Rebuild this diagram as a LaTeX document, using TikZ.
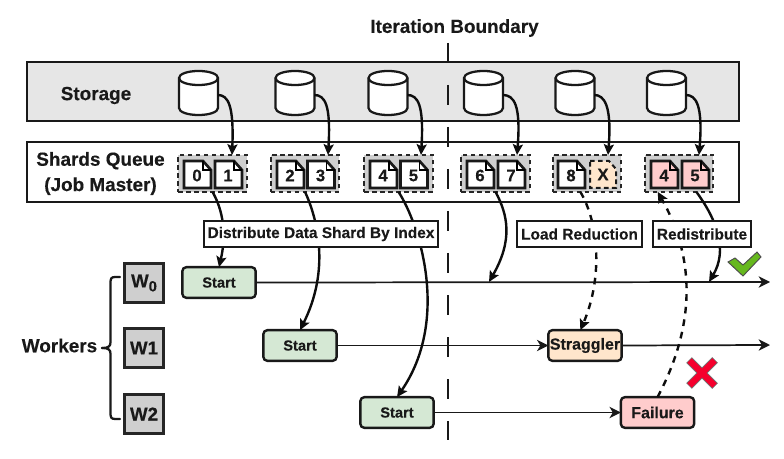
\documentclass[tikz,border=0pt]{standalone}
\usepackage{fontspec}
\setmainfont[BoldFeatures={FakeBold=0.25}]{Liberation Sans}
\usetikzlibrary{arrows.meta,calc}
\definecolor{storagebg}{HTML}{E6E6E6}
\definecolor{groupbg}{HTML}{CFCFCF}
\definecolor{startbg}{HTML}{D5E8D4}
\definecolor{stragbg}{HTML}{FFE6CC}
\definecolor{failbg}{HTML}{FFCCCC}
\definecolor{checkgreen}{HTML}{66B81E}
\definecolor{crossred}{HTML}{F5002D}
\tikzset{
  x=0.75pt,y=-0.75pt,
  every node/.style={font=\bfseries,inner sep=0pt,outer sep=0pt,text=black!90},
  band/.style={draw=black!90,line width=1.8pt,rectangle},
  cylline/.style={draw=black!90,line width=1.7pt},
  cylbox/.style={minimum width=29pt,minimum height=33pt},
  group/.style={draw=black!85,fill=groupbg,dashed,dash pattern=on 3.4pt off 2.6pt,line width=1.4pt,minimum width=51.5pt,minimum height=27.5pt},
  docline/.style={draw=black!90,line width=2pt,line join=miter},
  label/.style={draw=black!90,fill=white,line width=1.7pt,minimum height=20pt,font=\fontsize{11.6}{13}\bfseries\selectfont},
  worker/.style={draw=black!85,fill=groupbg,line width=2pt,minimum width=29pt,minimum height=29pt,font=\fontsize{14}{16}\bfseries\selectfont},
  state/.style={draw=black!90,line width=1.8pt,rounded corners=3pt,minimum width=55pt,minimum height=23pt,font=\fontsize{11}{13}\bfseries\selectfont},
  conn/.style={draw=black!95,line width=1.8pt,-{Stealth[length=8pt,width=7.5pt,inset=1.5pt]}},
  dconn/.style={conn,dashed,dash pattern=on 5pt off 4.5pt},
  time/.style={draw=black!90,line width=1.3pt,-{Stealth[length=8.5pt,width=8.5pt,inset=2.5pt]}},
  title/.style={font=\fontsize{14.2}{16}\bfseries\selectfont}
}
\newcommand{\docnode}[5]{% name, left x, top y, label, fill
  \fill[#5] (#2,#3) -- ++(19,0) -- ++(8,9) -- ++(0,18) -- ++(-27,0) -- cycle;
  \draw[docline] (#2,#3) -- ++(19,0) -- ++(8,9) -- ++(0,18) -- ++(-27,0) -- cycle;
  \draw[black,line width=0.8pt] ($(#2,#3)+(19,0)$) -- ++(0,9) -- ++(8,0);
  \node[font=\fontsize{12.5}{14}\bfseries\selectfont] (#1) at ($(#2,#3)+(13,14.5)$) {#4};
}
\newcommand{\cylnode}[2]{% name, centre x
  \fill[white] (#2-19.5,78) .. controls (#2-19.5,74) and (#2-11,71) .. (#2,71) .. controls (#2+11,71) and (#2+19.5,74) .. (#2+19.5,78) -- (#2+19.5,108) .. controls (#2+19.5,112) and (#2+11,115) .. (#2,115) .. controls (#2-11,115) and (#2-19.5,112) .. (#2-19.5,108) -- cycle;
  \draw[cylline] (#2-19.5,78) .. controls (#2-19.5,74) and (#2-11,71) .. (#2,71) .. controls (#2+11,71) and (#2+19.5,74) .. (#2+19.5,78) -- (#2+19.5,108) .. controls (#2+19.5,112) and (#2+11,115) .. (#2,115) .. controls (#2-11,115) and (#2-19.5,112) .. (#2-19.5,108) -- cycle;
  \draw[cylline] (#2-19.5,78) .. controls (#2-19.5,82) and (#2-11,85) .. (#2,85) .. controls (#2+11,85) and (#2+19.5,82) .. (#2+19.5,78);
  \node[cylbox] (#1) at (#2,95) {};
}
\begin{document}
\begin{tikzpicture}
\useasboundingbox (0,0) rectangle (784,459);
% bands
\node[band,fill=storagebg,minimum width=534pt,minimum height=44pt] (storage) at (383,91.5) {};
\node[band,fill=white,minimum width=534pt,minimum height=45pt] (queue) at (383,172) {};
\node[title] (storagelbl) at (96,95.5) {Storage};
\node[title,align=center] (queuelbl) at (100.5,173.5) {Shards Queue\\[3pt](Job Master)};
\node[title] (iter) at (454.5,28) {Iteration Boundary};
% cylinders
\cylnode{c1}{198.5}
\cylnode{c2}{295}
\cylnode{c3}{388}
\cylnode{c4}{483.5}
\cylnode{c5}{575}
\cylnode{c6}{666.5}
% shard groups
\node[group] (g1) at (212.5,173.5) {};
\node[group] (g2) at (305,173.5) {};
\node[group] (g3) at (398.5,173.5) {};
\node[group] (g4) at (495.5,173.5) {};
\node[group] (g5) at (587,173.5) {};
\node[group] (g6) at (679,173.5) {};
\docnode{d0}{184}{161}{0}{white}
\docnode{d1}{215}{161}{1}{white}
\docnode{d2}{277}{161}{2}{white}
\docnode{d3}{307.5}{161}{3}{white}
\docnode{d4}{370}{161}{4}{white}
\docnode{d5}{400.5}{161}{5}{white}
\docnode{d6}{467}{161}{6}{white}
\docnode{d7}{498}{161}{7}{white}
\docnode{d8}{558}{161}{8}{white}
% dashed X document
\fill[stragbg] (590,161) -- ++(19,0) -- ++(7,8) -- ++(0,19) -- ++(-26,0) -- cycle;
\draw[black!90,line width=1.5pt,dash pattern=on 3.5pt off 2.5pt] (590,161) -- ++(19,0) -- ++(7,8) -- ++(0,19) -- ++(-26,0) -- cycle;
\node[font=\fontsize{12.5}{14}\bfseries\selectfont] (dx) at (603,174.5) {X};
\docnode{d9}{651}{161}{4}{failbg}
\docnode{d10}{682}{161}{5}{failbg}
% storage to queue
\draw[conn] (c1.east) .. controls (228,95) and (234,105) .. (232,155);
\draw[conn] (c2.east) .. controls (325,95) and (331,105) .. (328,155);
\draw[conn] (c3.east) .. controls (418,95) and (424,105) .. (421,155);
\draw[conn] (c4.east) .. controls (514,95) and (521,105) .. (517,155);
\draw[conn] (c5.east) .. controls (604,95) and (612,105) .. (608,155);
\draw[conn] (c6.east) .. controls (696,95) and (703,105) .. (699,155);
% workers
\node[worker] (w0) at (144,283) {W\raisebox{-3pt}{\fontsize{11}{12}\bfseries\selectfont 0}};
\node[worker] (w1) at (144,348) {W1};
\node[worker] (w2) at (144,414) {W2};
\node[title] (workers) at (59.5,345.5) {Workers};
\coordinate (bracetop) at (120,277);
\coordinate (bracetip) at (102,348);
\coordinate (bracebot) at (120,419);
\draw[black!90,line width=1.7pt,line cap=round] (bracetop) -- (115,277) .. controls (111,277) and (110.5,279) .. (110.5,283) -- (110.5,342) .. controls (110.5,346) and (109,348) .. (bracetip);
\draw[black!90,line width=1.7pt,line cap=round] (bracebot) -- (115,419) .. controls (111,419) and (110.5,417) .. (110.5,413) -- (110.5,354) .. controls (110.5,350) and (109,348) .. (bracetip);
% state nodes
\node[state,fill=startbg] (s1) at (219,282.5) {Start};
\node[state,fill=startbg] (s2) at (300,345.5) {Start};
\node[state,fill=startbg] (s3) at (397,412.5) {Start};
\node[state,fill=stragbg,font=\fontsize{12}{14}\bfseries\selectfont] (strag) at (585,345.5) {Straggler};
\node[state,fill=failbg,font=\fontsize{12}{14}\bfseries\selectfont] (fail) at (657.5,412.5) {Failure};
% timelines
\coordinate (end0) at (770,282);
\coordinate (end1) at (770,345);
\coordinate (hit4) at (489,282);
\coordinate (hitr) at (709,282);
\draw[time] (s1.east) -- (end0);
\draw[time] (s2.east) -- (strag.west);
\draw[time] (strag.east) -- (end1);
\draw[time] (s3.east) -- (fail.west);
% boundary
\coordinate (bt) at (448,43);
\coordinate (bb) at (448,440);
\draw[black!90,line width=1.9pt,dash pattern=on 15pt off 16.5pt] (bt) -- (bb);
% distribution connectors
\draw[conn] (g1.south) .. controls (220,205) and (228,228) .. (s1.north);
\draw[conn] (g2.south) .. controls (318,220) and (330,270) .. (s2.north);
\draw[conn] (g3.south) .. controls (420,225) and (450,320) .. (s3.north);
\draw[conn] (g4.south) .. controls (508,215) and (513,240) .. (hit4);
\draw[dconn] ([xshift=-5pt]g5.south) .. controls (600,225) and (602,280) .. ([xshift=-3.5pt]strag.north);
\draw[dconn] (fail.north) .. controls (688,340) and (702,270) .. ([xshift=-16pt]g6.south);
\draw[conn] ([xshift=13pt]g6.south) .. controls (717,220) and (728,250) .. (hitr);
% labels
\node[label,minimum width=176pt] (ldist) at (321,234) {Distribute Data Shard By Index};
\node[label,minimum width=94pt] (lload) at (579.5,234) {Load Reduction};
\node[label,minimum width=74pt] (lred) at (702,234) {Redistribute};
% check
\filldraw[fill=checkgreen,draw=black!70,line width=0.7pt,line join=miter] (728,262) -- (735,258) -- (743,265) -- (757,252) -- (761,257) -- (743,276) -- cycle;
% cross
\draw[black!55,line width=6pt] (689,360) -- (715,386);
\draw[black!55,line width=6pt] (715,360) -- (689,386);
\draw[crossred,line width=4.6pt] (689.5,360.5) -- (714.5,385.5);
\draw[crossred,line width=4.6pt] (714.5,360.5) -- (689.5,385.5);
\end{tikzpicture}
\end{document}
